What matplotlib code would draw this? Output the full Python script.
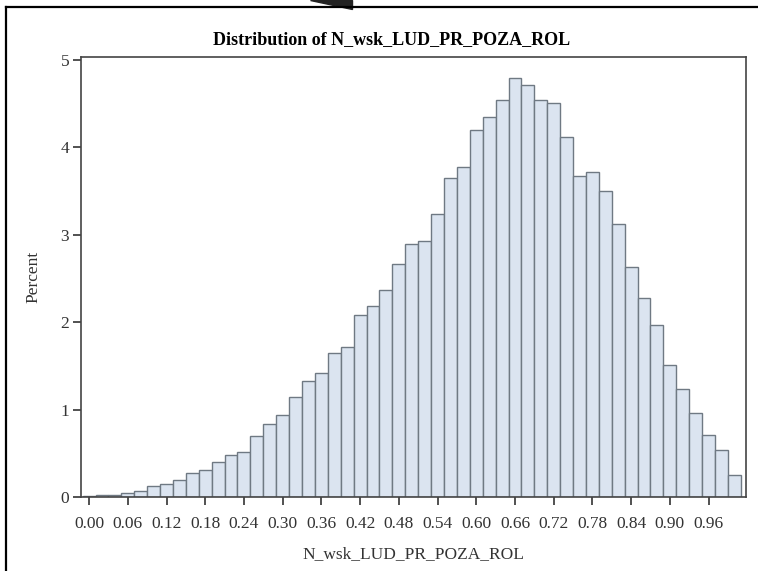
import matplotlib
matplotlib.use('Agg')
import matplotlib.pyplot as plt
from matplotlib.patches import Polygon
from matplotlib.lines import Line2D

# bin midpoints (width 0.02) and percent per bin
mids = [round(0.02 * i, 2) for i in range(51)]
pct = [0.01, 0.02, 0.02, 0.05, 0.07, 0.13, 0.15, 0.19, 0.27, 0.31,
       0.40, 0.48, 0.52, 0.70, 0.84, 0.94, 1.14, 1.33, 1.42, 1.65,
       1.72, 2.08, 2.18, 2.37, 2.66, 2.89, 2.93, 3.24, 3.65, 3.77,
       4.20, 4.34, 4.54, 4.79, 4.71, 4.54, 4.50, 4.11, 3.67, 3.72,
       3.50, 3.12, 2.63, 2.28, 1.97, 1.51, 1.24, 0.96, 0.71, 0.54,
       0.25]
xticks = [round(0.06 * i, 2) for i in range(17)]
xticklabels = ['%.2f' % t for t in xticks]
yticks = [0, 1, 2, 3, 4, 5]

plt.rcParams['font.family'] = 'Liberation Serif'

fig = plt.figure(figsize=(7.58, 5.71), dpi=100)
ax = fig.add_axes([81/758, 1-497/571, (746-81)/758, (497-57)/571])

ax.bar(mids, pct, width=0.02, align='center', color='#dbe4f0',
       edgecolor='#6f7983', linewidth=1.0)

ax.set_xlim(-0.0125, 1.018)
ax.set_ylim(0, 5.03)
ax.set_xticks(xticks)
ax.set_xticklabels(xticklabels)
ax.set_yticks(yticks)
ax.tick_params(axis='both', direction='out', length=5.5, width=1.2,
               labelsize=12.5, colors='#333333', labelcolor='#333333')
ax.tick_params(axis='x', pad=8)
ax.tick_params(axis='y', pad=3)
for s in ax.spines.values():
    s.set_color('#444444')
    s.set_linewidth(1.2)

ax.set_xlabel('N_wsk_LUD_PR_POZA_ROL', fontsize=12.5, color='#333333', labelpad=10)
ax.set_ylabel('Percent', fontsize=12.5, color='#333333', labelpad=14)
fig.text(392/758, 1-40/571, 'Distribution of N_wsk_LUD_PR_POZA_ROL',
         ha='center', va='center', fontsize=13, fontweight='bold')

# frame of the screenshot
fig.add_artist(Line2D([6/758, 6/758], [0, 1-7/571], color='black', lw=1.6,
                      transform=fig.transFigure))
fig.add_artist(Line2D([6/758, 1], [1-7/571, 1-7/571], color='black', lw=1.6,
                      transform=fig.transFigure))
fig.add_artist(Polygon([[310/758, 1], [352/758, 1], [352/758, 1-9/571]],
                       closed=True, color='#222222', transform=fig.transFigure))

fig.savefig('out.png', dpi=100)
